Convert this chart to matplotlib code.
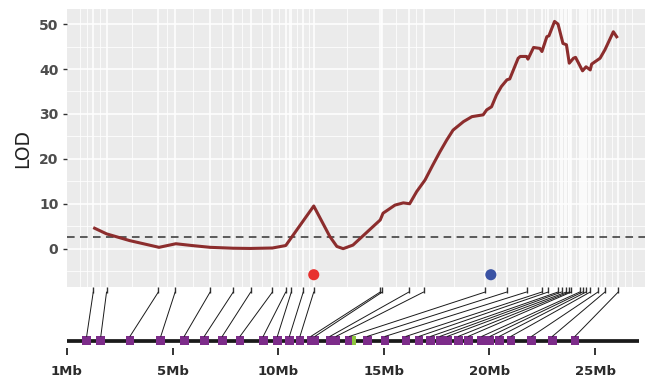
import matplotlib
matplotlib.use("Agg")
import matplotlib.pyplot as plt
import matplotlib.transforms as mtransforms
from matplotlib.patches import ConnectionPatch
import numpy as np

# genetic positions (cM) of the typed markers, in chromosome order
marker_cm = [0.0, 1.9, 9.3, 11.7, 16.7, 20.0, 22.5, 25.6, 27.5, 28.3, 30.0, 31.5,
             41.0, 41.3, 45.1, 47.2, 56.0, 59.1, 61.9, 64.1, 65.0, 66.4, 66.9, 67.6,
             68.0, 68.3, 69.5, 69.9, 70.4, 71.0, 72.1, 73.1, 75.0]
# physical positions (Mb) of the same markers
marker_mb = [0.93, 1.60, 2.98, 4.44, 5.55, 6.50, 7.35, 8.19, 9.29, 9.96, 10.53, 11.03,
             11.55, 11.74, 12.45, 12.74, 13.37, 14.22, 15.06, 16.05, 16.67, 17.22, 17.66, 18.01,
             18.53, 19.00, 19.64, 20.03, 20.47, 21.02, 22.00, 22.98, 24.05]

# LOD profile along the genetic map
scan_cm = [0.0, 1.9, 5.2, 9.4, 11.8, 14.1, 16.7, 20.0, 22.4, 25.6, 27.5, 31.5,
           33.8, 34.8, 35.7, 37.1, 41.0, 41.4, 43.1, 44.3, 45.2, 46.2, 47.4, 48.5,
           49.5, 50.5, 51.4, 52.9, 54.1, 55.7, 56.2, 56.9, 57.6, 58.3, 59.1, 59.5,
           60.7, 61.0, 61.9, 62.1, 62.9, 63.8, 64.1, 64.8, 65.1, 65.9, 66.4, 67.1,
           67.6, 68.0, 68.6, 68.9, 69.9, 70.4, 71.0, 71.2, 72.4, 73.1, 74.3, 74.9]
scan_lod = [4.7, 3.3, 1.8, 0.3, 1.1, 0.7, 0.3, 0.1, 0.05, 0.15, 0.7, 9.5,
            2.7, 0.5, 0.0, 0.8, 6.4, 7.9, 9.7, 10.2, 10.0, 12.7, 15.3, 18.6,
            21.5, 24.2, 26.4, 28.3, 29.4, 29.8, 30.9, 31.6, 34.2, 36.1, 37.6, 37.8,
            42.4, 42.8, 42.8, 42.2, 44.8, 44.6, 43.9, 47.2, 47.4, 50.6, 50.0, 45.7,
            45.4, 41.3, 42.4, 42.6, 39.6, 40.5, 39.8, 41.1, 42.4, 44.3, 48.3, 46.9]

threshold = 2.7

# called QTL peaks
peak_cm = [31.5, 56.8]
peak_lod = [-5.8, -5.8]
peak_colors = ["#E8312F", "#3B53A4"]

chrom_length_mb = 27.1
highlight_mb = 13.6

mb_ticks = [0, 5, 10, 15, 20, 25]
mb_labels = ["1Mb", "5Mb", "10Mb", "15Mb", "20Mb", "25Mb"]
lod_ticks = [0, 10, 20, 30, 40, 50]

W, H = 648, 381
fig = plt.figure(figsize=(W / 100, H / 100), dpi=100)

left_px, right_px = 67.0, 644.5
top_px, panel_bottom_px = 9.3, 287.3

ax = fig.add_axes([left_px / W, 1 - panel_bottom_px / H,
                   (right_px - left_px) / W, (panel_bottom_px - top_px) / H])
ax.set_facecolor("#EBEBEB")
for s in ax.spines.values():
    s.set_visible(False)

span = max(marker_cm) - min(marker_cm)
ax.set_xlim(min(marker_cm) - 0.05 * span, max(marker_cm) + 0.05 * span)
ax.set_ylim(-8.6, 53.3)

# ggplot-style grid: majors at markers, minors halfway between
b = np.array(marker_cm)
ext = np.concatenate([[2 * b[0] - b[1]], b, [2 * b[-1] - b[-2]]])
minor_x = (ext[:-1] + ext[1:]) / 2
minor_x = np.concatenate([minor_x, ext[[0, -1]]])
ax.set_xticks(marker_cm)
ax.set_xticks(minor_x, minor=True)
ax.set_xticklabels([])
ax.set_yticks(lod_ticks)
ax.set_yticks([-5, 5, 15, 25, 35, 45], minor=True)
ax.grid(which="major", color="white", lw=1.1)
ax.grid(which="minor", color="white", lw=0.55)
ax.set_axisbelow(True)
ax.tick_params(axis="x", which="major", length=4.3, width=1.0, color="#333333")
ax.tick_params(axis="y", which="major", length=3.2, width=1.0, color="#333333", pad=3,
               labelsize=10, labelcolor="#4D4D4D")
ax.tick_params(which="minor", length=0)
for lab in ax.get_yticklabels():
    lab.set_fontweight("bold")

ax.axhline(threshold, color="#333333", lw=1.1, ls=(0, (5, 3.5)), zorder=2)
ax.plot(scan_cm, scan_lod, color="#8C2D2D", lw=2.2, solid_capstyle="butt",
        solid_joinstyle="round", zorder=3)
ax.scatter(peak_cm, peak_lod, s=64, c=peak_colors, edgecolors="none", zorder=4, clip_on=False)

fig.text(22.5 / W, 1 - 148 / H, "LOD", rotation=90, ha="center", va="center",
         fontsize=13.5, color="#222222")

# physical map below, y measured in pixels up from the figure bottom
axc = fig.add_axes([left_px / W, 0, (right_px - left_px) / W, (H - panel_bottom_px) / H])
axc.set_xlim(0, (right_px - left_px) / 21.12)
axc.set_ylim(0, H - panel_bottom_px)
axc.patch.set_visible(False)
for name, s in axc.spines.items():
    s.set_visible(False)
axc.spines["bottom"].set_position(("data", 33))
axc.set_yticks([])
axc.set_xticks(mb_ticks)
axc.set_xticklabels(mb_labels, fontsize=9.5, fontweight="bold", color="#2B2B2B")
axc.tick_params(axis="x", length=5, width=1.4, color="#333333", pad=7)

chrom_y = 40.3
axc.plot([0, chrom_length_mb], [chrom_y, chrom_y], color="#1A1A1A", lw=2.7,
         solid_capstyle="butt", zorder=2)
axc.scatter(marker_mb, [chrom_y] * len(marker_mb), marker="s", s=40, color="#7D2C8A",
            edgecolors="none", zorder=3)
axc.bar(highlight_mb, 8.5, width=0.19, bottom=chrom_y - 4.25, color="#8DC63F", zorder=3)

# lines linking each marker's map position to its physical position
top_link = mtransforms.blended_transform_factory(ax.transData, axc.transData)
for cm, mb in zip(marker_cm, marker_mb):
    con = ConnectionPatch(xyA=(cm, H - 292), coordsA=top_link,
                          xyB=(mb, chrom_y + 4.3), coordsB=axc.transData,
                          color="#1A1A1A", lw=0.7)
    fig.add_artist(con)

fig.savefig("out.png", dpi=100)
